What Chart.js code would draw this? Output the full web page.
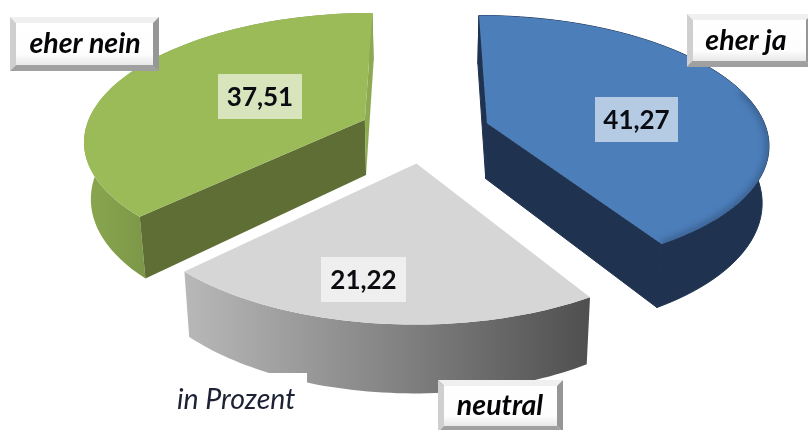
<!DOCTYPE html>
<html>
<head>
<meta charset="utf-8">
<title>in Prozent</title>
<script src="https://cdn.jsdelivr.net/npm/chart.js@4/dist/chart.umd.min.js"></script>
<style>
  html, body { margin: 0; padding: 0; background: #fff; }
  #wrap { position: relative; width: 808px; height: 430px; overflow: hidden; }
</style>
</head>
<body>
<div id="wrap"><canvas id="pie" width="808" height="430"></canvas></div>
<script>
// ---- Data ----
const categories = ['eher ja', 'neutral', 'eher nein'];
const values = [41.27, 21.22, 37.51];
const valueLabels = ['41,27', '21,22', '37,51'];
const unitLabel = 'in Prozent';

// ---- Styles ----
const explode = [65, 70, 66];
const topColors = ['#4c7eba', '#d6d6d6', '#9bbb59'];
const sideColors = ['#1f3350', '#8c8c8c', '#5f6e35'];
const endWallColors = ['#1f3350', '#d6d6d6', '#8daa52'];
const boxTints = ['#b5cae3', '#efefef', '#d7e4bc'];
const valueBoxes = [[595, 97, 83, 45], [321, 257, 85, 45], [218, 74, 84, 45]];
const nameBoxes = [[687, 14, 125, 53], [438, 380, 125, 52], [10, 17, 149, 54]];
const nameCenters = [746, 500, 85];

// perspective of the pie plane
const PIE_RADIUS = 280;
const DEPTH = 56;
const TILT = 0.45;
const PERSP = 0.15;

function project(arc, X, Y, z) {
  const s = 1 / (1 - PERSP * Y / PIE_RADIUS);
  const lean = 1 - 0.02 * z;
  return {
    x: arc.x + X * s * lean,
    y: arc.y + Y * TILT * s + z * DEPTH * s
  };
}

function slicePoints(arc, z) {
  const mid = (arc.startAngle + arc.endAngle) / 2;
  const off = arc.options.offset || 0;
  const ox = Math.cos(mid) * off;
  const oy = Math.sin(mid) * off;
  const rim = [];
  const steps = 60;
  for (let i = 0; i <= steps; i++) {
    const a = arc.startAngle + (arc.endAngle - arc.startAngle) * i / steps;
    rim.push(project(arc, ox + Math.cos(a) * PIE_RADIUS, oy + Math.sin(a) * PIE_RADIUS, z));
  }
  return { apex: project(arc, ox, oy, z), rim };
}

function tracePoly(ctx, pts) {
  ctx.beginPath();
  pts.forEach((p, i) => i ? ctx.lineTo(p.x, p.y) : ctx.moveTo(p.x, p.y));
  ctx.closePath();
}

function fillPoly(ctx, pts, fill, seal) {
  tracePoly(ctx, pts);
  ctx.fillStyle = fill;
  ctx.fill();
  // a hairline closes the seam between neighbouring walls
  if (seal) {
    ctx.strokeStyle = fill;
    ctx.lineWidth = 1;
    ctx.stroke();
  }
}

function rimFill(ctx, i, rim) {
  if (i === 0) return sideColors[0];
  const xs = rim.map(p => p.x);
  const g = ctx.createLinearGradient(Math.min(...xs), 0, Math.max(...xs), 0);
  if (i === 1) {
    g.addColorStop(0, '#b8b8b8');
    g.addColorStop(0.5, '#858585');
    g.addColorStop(1, '#4f4f4f');
  } else {
    g.addColorStop(0, '#8aa74f');
    g.addColorStop(0.2, '#7d9848');
    g.addColorStop(1, '#7d9848');
  }
  return g;
}

function drawSlice(ctx, arc, i) {
  const up = slicePoints(arc, 0);
  const low = slicePoints(arc, 1);
  const last = up.rim.length - 1;
  const startWall = [up.apex, up.rim[0], low.rim[0], low.apex];
  const endWall = [up.apex, up.rim[last], low.rim[last], low.apex];

  // side walls first, the top face covers whatever lies behind it
  fillPoly(ctx, up.rim.concat(low.rim.slice().reverse()), rimFill(ctx, i, up.rim), i === 0);
  // the grey slice faces the viewer, its radial walls stay hidden
  if (i !== 1) {
    fillPoly(ctx, startWall, i === 0 ? endWallColors[i] : sideColors[i], i === 0);
    fillPoly(ctx, endWall, i === 0 ? sideColors[0] : endWallColors[i], i === 0);
  }

  fillPoly(ctx, [up.apex].concat(up.rim), topColors[i]);

  // soft bevel along the front rim of the blue slice
  if (i === 0) {
    ctx.save();
    tracePoly(ctx, [up.apex].concat(up.rim));
    ctx.clip();
    ctx.beginPath();
    up.rim.slice(30).forEach((p, n) => n ? ctx.lineTo(p.x, p.y) : ctx.moveTo(p.x, p.y));
    ctx.strokeStyle = 'rgba(25,45,75,0.35)';
    ctx.lineWidth = 7;
    ctx.filter = 'blur(3px)';
    ctx.stroke();
    ctx.restore();
  }
}

function drawValueBox(ctx, i) {
  const [x, y, w, h] = valueBoxes[i];
  ctx.fillStyle = boxTints[i];
  ctx.fillRect(x, y, w, h);
  ctx.font = 'bold 26px Lato';
  ctx.textAlign = 'center';
  ctx.textBaseline = 'middle';
  ctx.fillStyle = '#0b0b12';
  ctx.fillText(valueLabels[i], x + w / 2, y + h / 2 + 1);
}

function drawNameBox(ctx, i) {
  const [x, y, w, h] = nameBoxes[i];
  const b = 6;
  const band = (pts, fill) => fillPoly(ctx, pts.map(p => ({ x: p[0], y: p[1] })), fill);
  band([[x, y], [x + w, y], [x + w - b, y + b], [x + b, y + b]], '#f0f0f0');
  band([[x, y], [x + b, y + b], [x + b, y + h - b], [x, y + h]], '#cfcfcf');
  band([[x + w, y], [x + w - b, y + b], [x + w - b, y + h - b], [x + w, y + h]], '#969696');
  band([[x, y + h], [x + b, y + h - b], [x + w - b, y + h - b], [x + w, y + h]], '#a0a0a0');
  const face = ctx.createLinearGradient(0, y + b, 0, y + h - b);
  face.addColorStop(0, '#ffffff');
  face.addColorStop(0.75, '#fdfdfd');
  face.addColorStop(1, '#e8e8e8');
  ctx.fillStyle = face;
  ctx.fillRect(x + b, y + b, w - 2 * b, h - 2 * b);
  ctx.font = 'italic bold 28.5px Lato';
  ctx.textAlign = 'center';
  ctx.textBaseline = 'middle';
  ctx.fillStyle = '#050508';
  ctx.fillText(categories[i], nameCenters[i], y + h / 2);
}

const piePlugin = {
  id: 'tiltedPie',
  beforeDatasetsDraw(chart) {
    const ctx = chart.ctx;
    const arcs = chart.getDatasetMeta(0).data;
    ctx.save();
    // back slices first
    [2, 0, 1].forEach(i => drawSlice(ctx, arcs[i], i));

    // the unit note sits on a white box that cuts into the grey wall
    ctx.fillStyle = '#fff';
    ctx.fillRect(150, 373, 157, 57);
    ctx.font = 'italic 28.5px Lato';
    ctx.textAlign = 'left';
    ctx.textBaseline = 'alphabetic';
    ctx.fillStyle = '#1c2233';
    ctx.fillText(unitLabel, 177, 409);

    arcs.forEach((a, i) => drawValueBox(ctx, i));
    arcs.forEach((a, i) => drawNameBox(ctx, i));
    ctx.restore();
    return false;
  }
};

new Chart(document.getElementById('pie'), {
  type: 'pie',
  data: {
    labels: categories,
    datasets: [{
      data: values,
      backgroundColor: topColors,
      offset: explode,
      borderWidth: 0
    }]
  },
  options: {
    responsive: false,
    animation: false,
    rotation: 0,
    layout: { padding: { left: 42, right: 0, top: 0, bottom: 168 } },
    plugins: {
      legend: { display: false },
      tooltip: { enabled: false }
    }
  },
  plugins: [piePlugin]
});
</script>
</body>
</html>
